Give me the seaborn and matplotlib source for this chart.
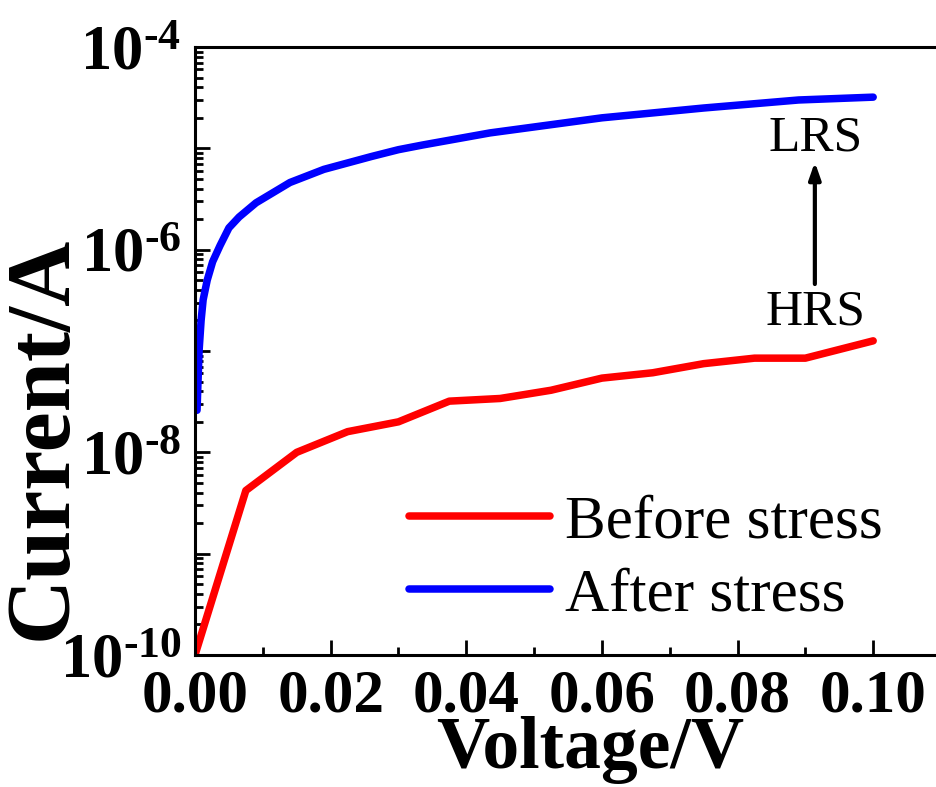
import numpy as np
import pandas as pd
import matplotlib
matplotlib.use("Agg")
import matplotlib.pyplot as plt
import matplotlib.ticker as mticker
from matplotlib.lines import Line2D
import seaborn as sns

# ---- data ----
before_v = [0.0, 0.0075, 0.015, 0.0225, 0.030, 0.0375, 0.045, 0.0525, 0.060, 0.0675, 0.075, 0.0825, 0.090, 0.100]
before_i = [1.0e-10, 4.2e-9, 1.0e-8, 1.6e-8, 2.0e-8, 3.2e-8, 3.4e-8, 4.1e-8, 5.4e-8, 6.1e-8, 7.5e-8, 8.5e-8, 8.5e-8, 1.26e-7]

after_v = [0.0003, 0.0006, 0.0009, 0.0012, 0.0018, 0.0026, 0.0037, 0.005, 0.0065, 0.009, 0.014, 0.019, 0.026,
           0.030, 0.0336, 0.0435, 0.060, 0.075, 0.089, 0.100]
after_i = [2.6e-8, 1.0e-7, 2.0e-7, 3.2e-7, 5.0e-7, 7.6e-7, 1.1e-6, 1.64e-6, 2.1e-6, 2.9e-6, 4.6e-6, 6.2e-6, 8.3e-6,
           9.7e-6, 1.08e-5, 1.42e-5, 2.0e-5, 2.5e-5, 3.0e-5, 3.2e-5]

series_labels = ["Before stress", "After stress"]
series_colors = ["#ff0000", "#0000ff"]
x_label = "Voltage/V"
y_label = "Current/A"
x_ticks = [0.00, 0.02, 0.04, 0.06, 0.08, 0.10]

df = pd.concat([
    pd.DataFrame({"V": before_v, "I": before_i, "s": series_labels[0]}),
    pd.DataFrame({"V": after_v, "I": after_i, "s": series_labels[1]}),
], ignore_index=True)

sns.set_style("ticks")
plt.rcParams["font.family"] = ["Liberation Serif", "DejaVu Serif"]
plt.rcParams["mathtext.fontset"] = "custom"
plt.rcParams["mathtext.rm"] = "Liberation Serif:bold"
plt.rcParams["mathtext.bf"] = "Liberation Serif:bold"
plt.rcParams["mathtext.it"] = "Liberation Serif:bold"
plt.rcParams["text.color"] = "black"
plt.rcParams["axes.labelcolor"] = "black"
plt.rcParams["xtick.color"] = "black"
plt.rcParams["ytick.color"] = "black"

fig = plt.figure(figsize=(9.37, 7.87), dpi=100)
ax = fig.add_axes([195 / 937, 1 - 655 / 787, (941 - 195) / 937, (655 - 47) / 787])

sns.lineplot(data=df, x="V", y="I", hue="s", palette=series_colors, sort=False,
             linewidth=5.4, ax=ax, legend=False, estimator=None)
for ln in ax.get_lines():
    ln.set_solid_capstyle("round")
    ln.set_solid_joinstyle("round")

ax.set_yscale("log")
ax.set_xlim(0, 0.11)
ax.set_ylim(1e-10, 1e-4)

ax.set_xticks(x_ticks)
ax.xaxis.set_major_formatter(mticker.FormatStrFormatter("%.2f"))
ax.xaxis.set_minor_locator(mticker.MultipleLocator(0.01))

ax.yaxis.set_major_locator(mticker.LogLocator(base=10, numticks=20))
ax.yaxis.set_minor_locator(mticker.LogLocator(base=10, subs=np.arange(2, 10), numticks=20))
ax.yaxis.set_minor_formatter(mticker.NullFormatter())

HY = "\u2010"
def yfmt(v, pos):
    e = int(round(np.log10(v)))
    if e % 2 == 0:
        return r"$\mathbf{10^{" + HY + str(abs(e)) + r"}}$"
    return ""
ax.yaxis.set_major_formatter(mticker.FuncFormatter(yfmt))

for sp in ax.spines.values():
    sp.set_linewidth(2.2)
    sp.set_color("black")
ax.spines["right"].set_visible(False)

ax.tick_params(axis="both", which="major", direction="in", length=11, width=2, colors="black")
ax.tick_params(axis="both", which="minor", direction="in", length=6, width=2, colors="black")
ax.tick_params(axis="x", which="major", labelsize=44, pad=10)
ax.tick_params(axis="y", which="major", labelsize=45, pad=10)
for lab in ax.get_xticklabels():
    lab.set_fontweight("bold")

ax.set_xlabel("")
ax.set_ylabel("")
fig.text(590 / 937, 1 - 768 / 787, x_label, fontsize=53, fontweight="bold",
         ha="center", va="baseline", color="black")
fig.text(44 / 937, 1 - 438 / 787, y_label, fontsize=65, fontweight="bold",
         ha="center", va="center", rotation=90, color="black")

handles = [Line2D([], [], color=c, lw=5.4, solid_capstyle="round") for c in series_colors]
leg = ax.legend(handles, series_labels, loc="lower right",
                bbox_to_anchor=((907 - 195) / 746, (655 - 648) / 608),
                frameon=False, fontsize=44, handlelength=2.3, handletextpad=0.25, labelspacing=0.28,
                borderaxespad=0)
for t in leg.get_texts():
    t.set_color("black")

ax.text(0.0915, 1.26e-5, "LRS", fontsize=37, ha="center", va="center", color="black")
ax.text(0.0915, 2.4e-7, "HRS", fontsize=37, ha="center", va="center", color="black")
ax.annotate("", xy=(0.0914, 7.8e-6), xytext=(0.0914, 4.3e-7),
            arrowprops=dict(arrowstyle="-|>,head_length=1.0,head_width=0.35", color="black", lw=3))

fig.savefig("out.png", dpi=100)
